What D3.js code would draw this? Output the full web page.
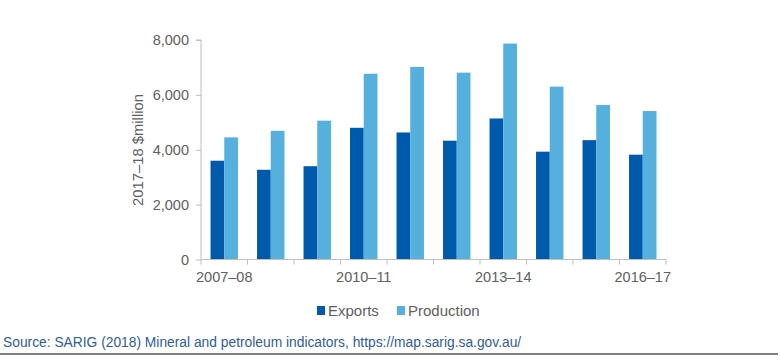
<!DOCTYPE html>
<html><head><meta charset="utf-8">
<script src="https://cdn.jsdelivr.net/npm/d3@7"></script>
<style>body{margin:0;background:#fff}svg{display:block;font-family:"Liberation Sans",Arial,sans-serif}</style>
</head><body><svg id="c" width="780" height="360"></svg>
<script>
const categories = ["2007–08","2008–09","2009–10","2010–11","2011–12","2012–13","2013–14","2014–15","2015–16","2016–17"];
const exports = [3600,3270,3400,4800,4630,4330,5140,3930,4350,3820];
const production = [4450,4690,5060,6770,7020,6810,7870,6300,5630,5410];
const seriesNames = ["Exports","Production"];
const seriesColors = ["#005aab","#56b0de"];
const yTicks = [0,2000,4000,6000,8000];
const xTickLabels = ["2007–08","2010–11","2013–14","2016–17"];

const svg = d3.select("#c");
const x0 = 201, x1 = 666, yTop = 40, yBot = 259.5;
const x = d3.scaleBand().domain(categories).range([x0,x1]).paddingInner(0.41).paddingOuter(0.205);
const xs = d3.scaleBand().domain(seriesNames).range([0,x.bandwidth()]);
const y = d3.scaleLinear().domain([0,8000]).range([yBot,yTop]);
const data = categories.map((c,i)=>({c, v:[exports[i],production[i]]}));
const txt = "#606060";

const g = svg.append("g");
g.selectAll("g.cat").data(data).join("g").attr("transform",d=>`translate(${x(d.c)},0)`)
 .selectAll("rect").data(d=>d.v.map((v,j)=>({s:seriesNames[j],v,j}))).join("rect")
 .attr("x",d=>xs(d.s)).attr("width",xs.bandwidth())
 .attr("y",d=>y(d.v)).attr("height",d=>yBot-y(d.v)).attr("fill",d=>seriesColors[d.j]);

// y axis
const ya = svg.append("g").attr("transform",`translate(${x0},0)`)
 .call(d3.axisLeft(y).tickValues(yTicks).tickFormat(d3.format(",")).tickSize(5).tickPadding(7));
ya.select(".domain").attr("stroke","#bfbfbf").attr("d",`M-5,${yTop}H0V${yBot}`);
ya.selectAll(".tick line").attr("stroke","#bfbfbf");
ya.selectAll(".tick text").attr("fill",txt).attr("font-size",14.5).attr("font-family","Liberation Sans, Arial, sans-serif");

// x axis
const xStep = x.step();
const xa = svg.append("g").attr("transform",`translate(0,${yBot})`);
xa.append("line").attr("x1",x0).attr("x2",x1).attr("stroke","#bfbfbf");
d3.range(categories.length+1).forEach(i=>{
  xa.append("line").attr("x1",x0+i*xStep).attr("x2",x0+i*xStep).attr("y1",0).attr("y2",5).attr("stroke","#bfbfbf");
});
xa.selectAll("text").data(xTickLabels).join("text")
 .attr("x",d=>x(d)+x.bandwidth()/2).attr("y",22).attr("text-anchor","middle")
 .attr("fill",txt).attr("font-size",14.5).text(d=>d);

// y title
svg.append("text").attr("transform","translate(143,150) rotate(-90)").attr("text-anchor","middle")
 .attr("fill",txt).attr("font-size",14.8).text("2017–18 $million");

// legend
const leg = svg.append("g");
const legX = [317,397];
seriesNames.forEach((s,i)=>{
  leg.append("rect").attr("x",legX[i]).attr("y",306).attr("width",8).attr("height",9).attr("fill",seriesColors[i]);
  leg.append("text").attr("x",legX[i]+11).attr("y",316).attr("fill",txt).attr("font-size",15).text(s);
});

// source
svg.append("text").attr("x",3).attr("y",347).attr("fill","#2f5d99").attr("font-size",13.8)
 .text("Source: SARIG (2018) Mineral and petroleum indicators, https://map.sarig.sa.gov.au/");
svg.append("line").attr("x1",0).attr("x2",778).attr("y1",354).attr("y2",354).attr("stroke","#7f7f7f").attr("stroke-width",2);
</script></body></html>
